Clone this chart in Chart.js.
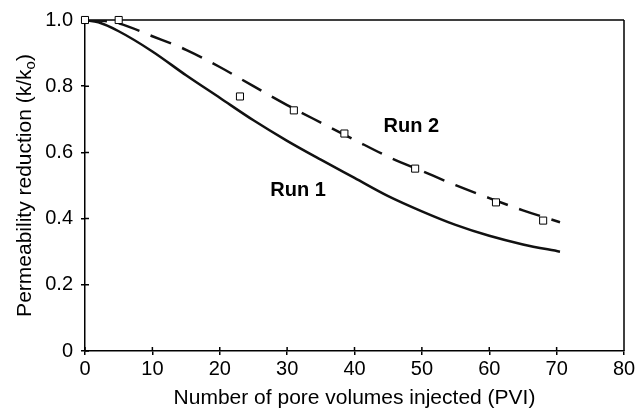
<!DOCTYPE html>
<html>
<head>
<meta charset="utf-8">
<script src="https://cdn.jsdelivr.net/npm/chart.js@4.4.1/dist/chart.umd.min.js"></script>
<style>
  html, body { margin: 0; padding: 0; background: #fff; }
  #wrap { width: 644px; height: 412px; }
</style>
</head>
<body>
<div id="wrap"><canvas id="chart" width="644" height="412"></canvas></div>
<script>
// valores
const run1X = [0, 2, 5, 10, 15, 20, 25, 30, 35, 40, 45, 50, 55, 60, 65, 70.5];
const run1Y = [1.0, 0.993, 0.966, 0.905, 0.833, 0.765, 0.697, 0.635, 0.578, 0.523, 0.468, 0.422, 0.381, 0.348, 0.322, 0.30];

const run2LineX = [0, 3, 5, 10, 15, 20, 25, 30, 35, 40, 45, 50, 55, 60, 65, 70.5];
const run2LineY = [1.0, 0.997, 0.99, 0.951, 0.91, 0.858, 0.80, 0.743, 0.69, 0.638, 0.587, 0.544, 0.501, 0.462, 0.425, 0.389];

const run2PtsX = [0, 5, 23, 31, 38.5, 49, 61, 68];
const run2PtsY = [1.0, 1.0, 0.769, 0.727, 0.657, 0.551, 0.449, 0.394];

const xTicks = [0, 10, 20, 30, 40, 50, 60, 70, 80];
const yTicks = [0, 0.2, 0.4, 0.6, 0.8, 1.0];

const labels = [
    { text: 'Run 1', x: 27.5, y: 0.467 },
    { text: 'Run 2', x: 44.3, y: 0.662 }
];

const FONT = '"Liberation Sans", Arial, Helvetica, sans-serif';

function toPoints(xs, ys) {
    return xs.map((x, i) => ({ x: x, y: ys[i] }));
}

// moldura, ticks internos, titulo do eixo y e rotulos
const extras = {
    id: 'extras',
    beforeDatasetsDraw(chart) {
        const ctx = chart.ctx;
        const a = chart.chartArea;
        const sx = chart.scales.x, sy = chart.scales.y;
        ctx.save();
        ctx.strokeStyle = '#000';
        ctx.lineWidth = 1.5;
        ctx.beginPath();
        ctx.moveTo(a.left, a.top); ctx.lineTo(a.right, a.top);
        ctx.moveTo(a.right, a.top); ctx.lineTo(a.right, a.bottom);
        xTicks.forEach(v => {
            const px = sx.getPixelForValue(v);
            ctx.moveTo(px, a.bottom); ctx.lineTo(px, a.bottom - 4);
        });
        yTicks.forEach(v => {
            const py = sy.getPixelForValue(v);
            ctx.moveTo(a.left, py); ctx.lineTo(a.left + 4, py);
        });
        ctx.stroke();
        ctx.restore();
    },
    afterDraw(chart) {
        const ctx = chart.ctx;
        const a = chart.chartArea;
        const sx = chart.scales.x, sy = chart.scales.y;
        ctx.save();
        ctx.fillStyle = '#000';
        ctx.font = 'bold 20px ' + FONT;
        ctx.textBaseline = 'alphabetic';
        ctx.textAlign = 'left';
        labels.forEach(l => {
            ctx.fillText(l.text, sx.getPixelForValue(l.x), sy.getPixelForValue(l.y));
        });

        // titulo do eixo y com subscrito
        const main = 'Permeability reduction (k/k';
        const sub = 'o';
        const end = ')';
        ctx.font = '21px ' + FONT;
        const w1 = ctx.measureText(main).width;
        const w3 = ctx.measureText(end).width;
        ctx.font = '15px ' + FONT;
        const w2 = ctx.measureText(sub).width;
        const total = w1 + w2 + w3;
        ctx.translate(31, (a.top + a.bottom) / 2);
        ctx.rotate(-Math.PI / 2);
        let cx = -total / 2;
        ctx.font = '21px ' + FONT;
        ctx.fillText(main, cx, 0);
        cx += w1;
        ctx.font = '15px ' + FONT;
        ctx.fillText(sub, cx, 4);
        cx += w2;
        ctx.font = '21px ' + FONT;
        ctx.fillText(end, cx, 0);
        ctx.restore();
    }
};

new Chart(document.getElementById('chart'), {
    type: 'scatter',
    data: {
        datasets: [
            {
                label: 'Run 2 (data)',
                data: toPoints(run2PtsX, run2PtsY),
                showLine: false,
                pointStyle: 'rect',
                pointRadius: 5,
                pointBackgroundColor: '#fff',
                pointBorderColor: '#000',
                pointBorderWidth: 1,
                clip: false,
                order: 0
            },
            {
                label: 'Run 1',
                data: toPoints(run1X, run1Y),
                showLine: true,
                borderColor: '#111',
                borderWidth: 2.5,
                pointRadius: 0,
                cubicInterpolationMode: 'monotone',
                order: 1
            },
            {
                label: 'Run 2',
                data: toPoints(run2LineX, run2LineY),
                showLine: true,
                borderColor: '#111',
                borderWidth: 2.5,
                borderDash: [22, 12],
                pointRadius: 0,
                cubicInterpolationMode: 'monotone',
                order: 1
            }
        ]
    },
    options: {
        responsive: false,
        animation: false,
        events: [],
        layout: { padding: { left: 0, right: 20, top: 17, bottom: 0 } },
        plugins: { legend: { display: false }, tooltip: { enabled: false } },
        scales: {
            x: {
                type: 'linear',
                min: 0, max: 80,
                afterBuildTicks: s => { s.ticks = xTicks.map(v => ({ value: v })); },
                afterFit: s => { s.height = 61; },
                ticks: { color: '#000', font: { family: FONT, size: 20 }, padding: 2, maxRotation: 0 },
                grid: { drawOnChartArea: false, drawTicks: true, tickLength: 4, color: '#000', lineWidth: 1.5 },
                border: { display: true, color: '#000', width: 1.5 },
                title: { display: true, text: 'Number of pore volumes injected (PVI)', color: '#000', font: { family: FONT, size: 21 }, padding: { top: 2, bottom: 1 } }
            },
            y: {
                type: 'linear',
                min: 0, max: 1,
                afterBuildTicks: s => { s.ticks = yTicks.map(v => ({ value: v })); },
                afterFit: s => { s.width = 85; },
                ticks: {
                    color: '#000', font: { family: FONT, size: 20 }, padding: 8,
                    callback: v => v === 0 ? '0' : v.toFixed(1)
                },
                grid: { drawOnChartArea: false, drawTicks: true, tickLength: 4, color: '#000', lineWidth: 1.5 },
                border: { display: true, color: '#000', width: 1.5 }
            }
        }
    },
    plugins: [extras]
});
</script>
</body>
</html>
